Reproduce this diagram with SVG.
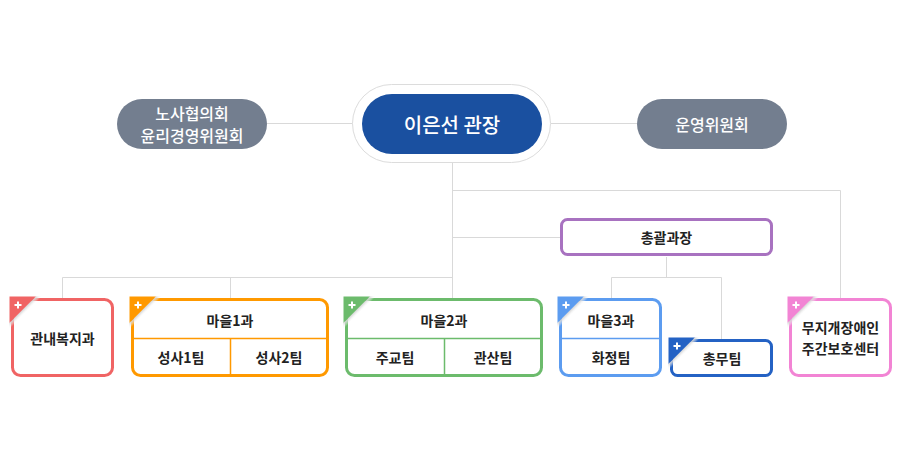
<svg xmlns="http://www.w3.org/2000/svg" xmlns:xlink="http://www.w3.org/1999/xlink" width="903" height="462" viewBox="0 0 903 462">
<style>
text{font-family:"Noto Sans CJK KR","Noto Sans",sans-serif;text-anchor:middle;dominant-baseline:central}
.lbl{font-size:14px;font-weight:700;fill:#222}
.wt{fill:#fff;font-weight:500}
.ln{stroke:#d9d9d9;stroke-width:1;fill:none}
.box{fill:#fff;stroke-width:3}
.div{stroke-width:1.5;fill:none}
</style>
<defs>
<linearGradient id="fold" gradientUnits="userSpaceOnUse" x1="11.8" y1="11.8" x2="14.8" y2="14.8">
<stop offset="0" stop-color="#d2d2d2"/>
<stop offset="1" stop-color="#fff" stop-opacity="0"/>
</linearGradient>
<g id="corner">
<polygon points="-1.5,-1.5 25,-1.5 -1.5,25" fill="currentColor"/>
<polygon points="25,-1.5 31,-1.5 -1.5,31 -1.5,25" fill="url(#fold)"/>
<path d="M3.5,7 H10.5 M7,3.5 V10.5" stroke="#fff" stroke-width="2"/>
</g>
</defs>
<g id="connectors">
<line class="ln" x1="267" y1="123.5" x2="353" y2="123.5"/>
<line class="ln" x1="551" y1="123.5" x2="637" y2="123.5"/>
<line class="ln" x1="452.5" y1="163" x2="452.5" y2="298"/>
<polyline class="ln" points="452.5,190.5 840.5,190.5 840.5,298"/>
<line class="ln" x1="452.5" y1="237.5" x2="560" y2="237.5"/>
<polyline class="ln" points="62.5,298 62.5,277.5 452.5,277.5"/>
<line class="ln" x1="230.5" y1="277.5" x2="230.5" y2="298"/>
<line class="ln" x1="666.5" y1="257" x2="666.5" y2="277.5"/>
<polyline class="ln" points="611.5,298 611.5,277.5 721.5,277.5 721.5,339"/>
</g>
<g id="node-labor">
<rect x="117" y="99" width="150" height="50" rx="25" fill="#737e8f"/>
<text class="wt" x="192" y="112.5" font-size="16">노사협의회</text>
<text class="wt" x="192" y="134.5" font-size="16">윤리경영위원회</text>
</g>
<g id="node-director">
<rect x="352.5" y="84.5" width="198" height="78" rx="39" fill="#fff" stroke="#dcdcdc"/>
<rect x="362" y="94" width="180" height="60" rx="30" fill="#1a50a0"/>
<text class="wt" x="452" y="124" font-size="20">이은선 관장</text>
</g>
<g id="node-committee">
<rect x="637" y="99" width="150" height="50" rx="25" fill="#737e8f"/>
<text class="wt" x="712" y="124" font-size="16">운영위원회</text>
</g>
<g id="node-general">
<rect class="box" x="561.5" y="219.5" width="210" height="35" rx="6" stroke="#a872c0"/>
<text class="lbl" x="666.5" y="237">총괄과장</text>
</g>
<g id="node-welfare">
<rect class="box" x="12.5" y="299.5" width="100" height="76" rx="8" stroke="#f06464"/>
<use xlink:href="#corner" href="#corner" x="11" y="298" color="#f06464"/>
<text class="lbl" x="62.5" y="337.5">관내복지과</text>
</g>
<g id="node-village1">
<rect class="box" x="132.5" y="299.5" width="195" height="76" rx="8" stroke="#ff9900"/>
<path class="div" d="M132.5,338.5 H327.5 M230.5,338.5 V375.5" stroke="#ff9900"/>
<use xlink:href="#corner" href="#corner" x="131" y="298" color="#ff9900"/>
<text class="lbl" x="230" y="320">마을1과</text>
<text class="lbl" x="181" y="357">성사1팀</text>
<text class="lbl" x="279" y="357">성사2팀</text>
</g>
<g id="node-village2">
<rect class="box" x="346.5" y="299.5" width="195" height="76" rx="8" stroke="#6cbb6c"/>
<path class="div" d="M346.5,338.5 H541.5 M444.5,338.5 V375.5" stroke="#6cbb6c"/>
<use xlink:href="#corner" href="#corner" x="345" y="298" color="#6cbb6c"/>
<text class="lbl" x="444" y="320">마을2과</text>
<text class="lbl" x="395" y="357">주교팀</text>
<text class="lbl" x="493" y="357">관산팀</text>
</g>
<g id="node-village3">
<rect class="box" x="560.5" y="299.5" width="100" height="76" rx="8" stroke="#5c9cf0"/>
<path class="div" d="M560.5,338.5 H660.5" stroke="#5c9cf0"/>
<use xlink:href="#corner" href="#corner" x="559" y="298" color="#5c9cf0"/>
<text class="lbl" x="611" y="320">마을3과</text>
<text class="lbl" x="611" y="357">화정팀</text>
</g>
<g id="node-admin">
<rect class="box" x="671.5" y="340.5" width="100" height="35" rx="6" stroke="#2462c4"/>
<use xlink:href="#corner" href="#corner" x="670" y="339" color="#2462c4"/>
<text class="lbl" x="722" y="358">총무팀</text>
</g>
<g id="node-rainbow">
<rect class="box" x="790.5" y="299.5" width="100" height="76" rx="8" stroke="#f284d4"/>
<use xlink:href="#corner" href="#corner" x="789" y="298" color="#f284d4"/>
<text class="lbl" x="840.5" y="327">무지개장애인</text>
<text class="lbl" x="840.5" y="348">주간보호센터</text>
</g>
</svg>
